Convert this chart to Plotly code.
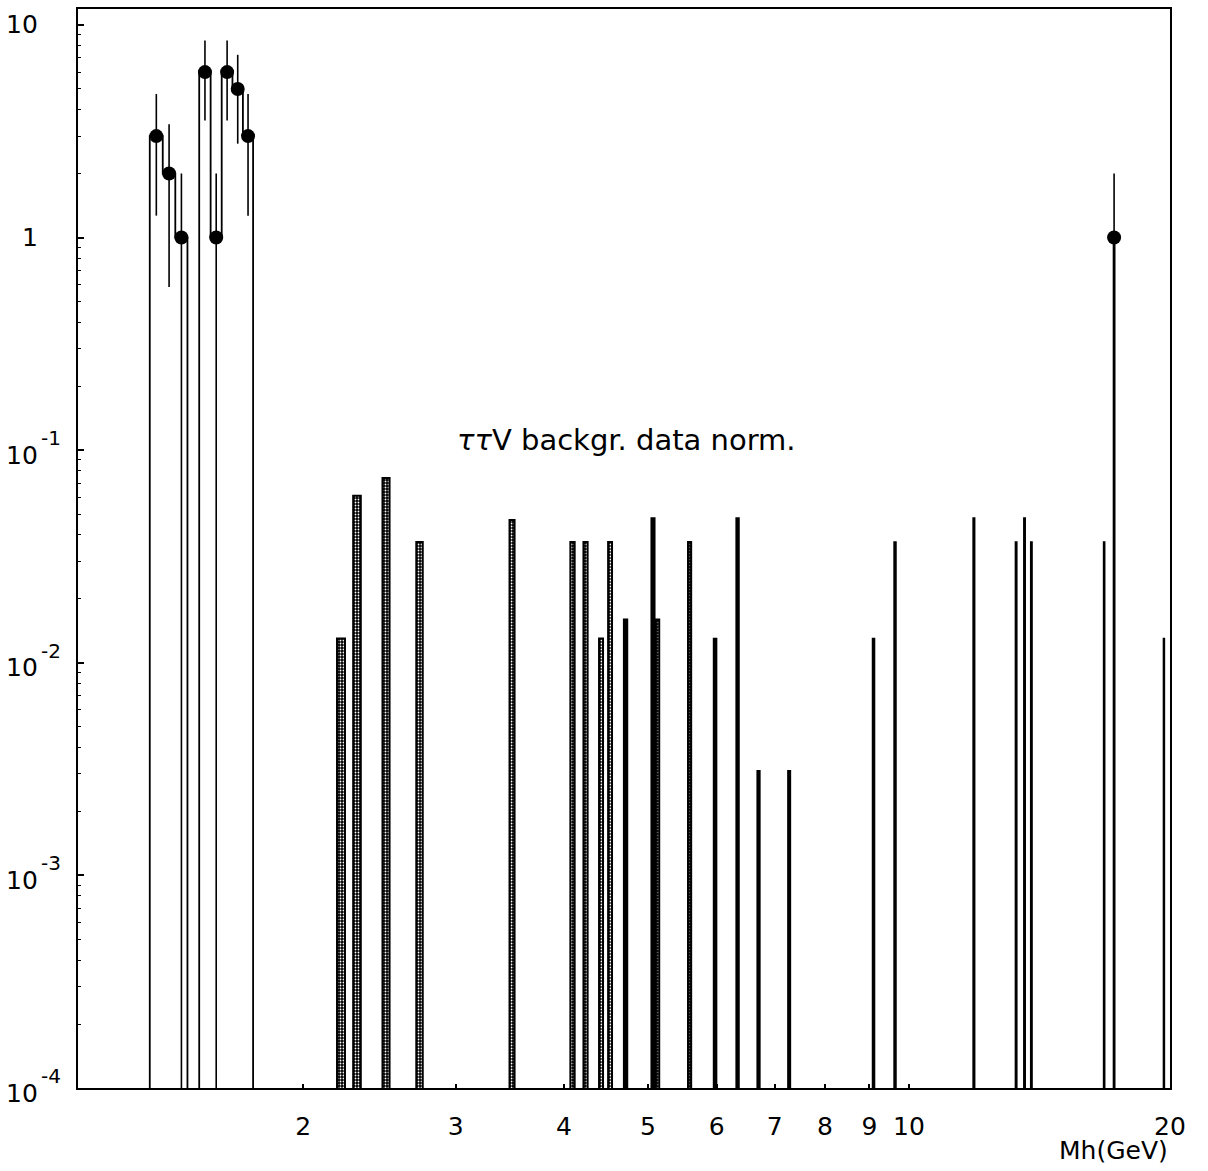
import math
import plotly.graph_objects as go

# ---------------------------------------------------------------- data
BIN_WIDTH = 0.0467  # GeV, width of every histogram bin

# observed events, block of consecutive bins starting at this lower edge
data_first_edge = 1.331
data_counts = [3, 2, 1, 0, 6, 1, 6, 5, 3]

# observed events, isolated bin at high mass (bin centre, content)
data_high_mass = [17.24]
data_high_counts = [1]

# tau-tau-V background normalised to data: bin centres (GeV) and contents
bkg_dotted_mass = [2.212, 2.308, 2.493, 2.725, 3.484, 4.091, 4.235, 4.413,
                   4.520, 5.127, 5.583]
bkg_dotted_value = [0.013, 0.061, 0.074, 0.037, 0.047, 0.037, 0.037, 0.013,
                    0.037, 0.016, 0.037]

bkg_solid_mass = [4.710, 5.066, 5.974, 6.342, 6.705, 7.273, 9.100, 9.635,
                  11.88, 13.29, 13.59, 13.84, 16.79, 19.68]
bkg_solid_value = [0.016, 0.048, 0.013, 0.048, 0.0031, 0.0031, 0.013, 0.037,
                   0.048, 0.037, 0.048, 0.037, 0.037, 0.013]

x_tick_vals = [2, 3, 4, 5, 6, 7, 8, 9, 10, 20]
x_tick_text = ["2", "3", "4", "5", "6", "7", "8", "9", "10", "20"]

# y labels: (value, mantissa text, exponent text)
y_tick_vals = [1e-4, 1e-3, 1e-2, 1e-1, 1, 10]
y_tick_base = ["10", "10", "10", "10", "1", "10"]
y_tick_exp = ["-4", "-3", "-2", "-1", "", ""]

X_MIN, X_MAX = 1.1, 20.0
Y_LOG_MIN, Y_LOG_MAX = -4.0, 1.075
FLOOR = 1e-6  # stand-in for zero on the log axis (lies below the frame)

FONT = "DejaVu Sans"


# ------------------------------------------------------------- helpers
def bar_polygons(centres, values):
    xs, ys = [], []
    for c, v in zip(centres, values):
        lo, hi = c - BIN_WIDTH / 2, c + BIN_WIDTH / 2
        xs += [lo, lo, hi, hi, lo, None]
        ys += [FLOOR, v, v, FLOOR, FLOOR, None]
    return xs, ys


def step_outline(first_edge, counts):
    edges = [first_edge + i * BIN_WIDTH for i in range(len(counts) + 1)]
    xs = [edges[0]] + edges
    ys = [FLOOR] + [c if c > 0 else FLOOR for c in counts] + [FLOOR]
    return xs, ys


fig = go.Figure()

# background histogram, dotted bins
bx, by = bar_polygons(bkg_dotted_mass, bkg_dotted_value)
fig.add_trace(go.Scatter(
    x=bx, y=by, mode="lines", fill="toself",
    line=dict(color="black", width=2),
    fillcolor="black",
    fillpattern=dict(shape=".", bgcolor="black", fgcolor="white",
                     size=3, solidity=0.3, fillmode="replace"),
    hoverinfo="skip",
))

# background histogram, solid bins
bx, by = bar_polygons(bkg_solid_mass, bkg_solid_value)
fig.add_trace(go.Scatter(
    x=bx, y=by, mode="lines", fill="toself",
    line=dict(color="black", width=1.6),
    fillcolor="black",
    hoverinfo="skip",
))

# observed data histogram outlines
sx, sy = step_outline(data_first_edge, data_counts)
fig.add_trace(go.Scatter(
    x=sx, y=sy, mode="lines", line=dict(color="black", width=1.8, shape="hv"),
    hoverinfo="skip",
))
hx, hy = bar_polygons(data_high_mass, data_high_counts)
fig.add_trace(go.Scatter(
    x=hx, y=hy, mode="lines", line=dict(color="black", width=1.8),
    hoverinfo="skip",
))

# observed data points with Poisson errors
pt_mass, pt_count = [], []
for i, n in enumerate(data_counts):
    if n > 0:
        pt_mass.append(data_first_edge + (i + 0.5) * BIN_WIDTH)
        pt_count.append(n)
pt_mass += data_high_mass
pt_count += data_high_counts

fig.add_trace(go.Scatter(
    x=pt_mass, y=pt_count, mode="markers",
    marker=dict(symbol="circle", size=14, color="black",
                line=dict(width=0)),
    error_y=dict(type="data", array=[math.sqrt(n) for n in pt_count],
                 visible=True, width=0, thickness=1.6, color="black"),
    hoverinfo="skip",
))

# ---------------------------------------------------------------- axes
minor_y = [m * 10.0 ** e for e in range(-4, 2) for m in range(2, 10)]

fig.update_xaxes(
    type="log", range=[math.log10(X_MIN), math.log10(X_MAX)],
    showgrid=False, zeroline=False,
    showline=True, linecolor="black", linewidth=2, mirror=True,
    tickmode="array", tickvals=x_tick_vals, ticktext=x_tick_text,
    ticks="inside", ticklen=4, tickwidth=1.5, tickcolor="black",
    tickfont=dict(family=FONT, size=25, color="black"),
    ticklabelstandoff=15,
)
fig.update_yaxes(
    type="log", range=[Y_LOG_MIN, Y_LOG_MAX],
    showgrid=False, zeroline=False,
    showline=True, linecolor="black", linewidth=2, mirror=True,
    tickmode="array", tickvals=y_tick_vals,
    ticks="inside", ticklen=6, tickwidth=1.5, tickcolor="black",
    showticklabels=False,
    minor=dict(tickmode="array", tickvals=minor_y, ticks="inside",
               ticklen=3, tickwidth=1.2, tickcolor="black", showgrid=False),
)

annotations = []
for v, base, exp in zip(y_tick_vals, y_tick_base, y_tick_exp):
    annotations.append(dict(
        x=0, xref="paper", y=math.log10(v), yref="y",
        text=base, showarrow=False, xanchor="right", yanchor="middle",
        xshift=-38, yshift=-5 if exp else 0,
        font=dict(family=FONT, size=25, color="black"),
    ))
    if exp:
        annotations.append(dict(
            x=0, xref="paper", y=math.log10(v), yref="y",
            text=exp, showarrow=False, xanchor="left", yanchor="middle",
            xshift=-39, yshift=12,
            font=dict(family=FONT, size=20, color="black"),
        ))

annotations.append(dict(
    x=1, xref="paper", y=0, yref="paper",
    text="Mh(GeV)", showarrow=False, xanchor="right", yanchor="middle",
    yshift=-62, font=dict(family=FONT, size=25, color="black"),
))
annotations.append(dict(
    x=0.5027, xref="paper", y=0.601, yref="paper",
    text="<i>\u03c4\u03c4</i>V backgr. data norm.", showarrow=False,
    xanchor="center", yanchor="middle",
    font=dict(family=FONT, size=29, color="black"),
))

fig.update_layout(
    width=1208, height=1171, autosize=False,
    margin=dict(l=78, r=38, t=7, b=83, pad=0),
    plot_bgcolor="white", paper_bgcolor="white",
    showlegend=False,
    annotations=annotations,
)

fig.write_html("out.html")
